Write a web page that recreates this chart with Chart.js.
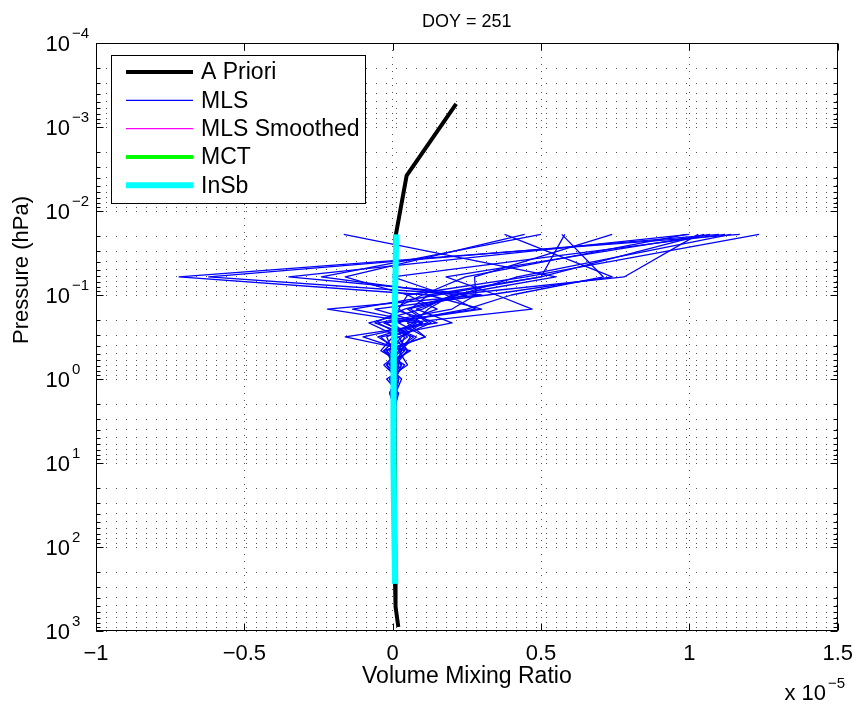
<!DOCTYPE html>
<html>
<head>
<meta charset="utf-8">
<script src="https://cdn.jsdelivr.net/npm/chart.js@4.4.0/dist/chart.umd.min.js"></script>
<style>
  html, body { margin: 0; padding: 0; background: #fff; }
  #wrap { width: 863px; height: 706px; position: relative; }
</style>
</head>
<body>
<div id="wrap"><canvas id="canvas"></canvas></div>
<script>
const FONT = '"Liberation Sans", Arial, Helvetica, sans-serif';

// axis ticks
const xTicks = [-1, -0.5, 0, 0.5, 1, 1.5];
const yExponents = [-4, -3, -2, -1, 0, 1, 2, 3];

// a priori profile (pressure hPa, vmr x 1e-5)
const aprioriPressure = [5.3e-4, 3.8e-3, 0.02, 0.1, 1, 10, 100, 275, 513, 896];
const aprioriVmr = [0.214, 0.047, 0.0097, 0.008, 0.006, 0.006, 0.007, 0.008, 0.0097, 0.019];

// MLS profiles, one row per profile, on these pressure levels
const mlsLevels = [0.019, 0.061, 0.1, 0.147, 0.215, 0.316, 0.46, 0.68, 1.0, 1.47, 2.15, 3.16, 4.6, 10, 46, 215];
const mlsProfiles = [
  [1.235, 0.45, 0.05, 0.02, 0.10, -0.05, 0.03, 0.01, 0.00, 0.01, 0.006, 0.004, 0.006, 0.005, 0.006, 0.008],
  [1.17, -0.72, 0.12, 0.30, -0.02, 0.05, -0.02, 0.02, 0.01, -0.01, 0.005, 0.007, 0.004, 0.005, 0.006, 0.008],
  [1.10, -0.62, 0.25, 0.05, 0.12, -0.10, 0.04, -0.01, 0.02, 0.00, 0.008, 0.004, 0.005, 0.006, 0.005, 0.007],
  [1.07, 0.18, 0.35, 0.47, 0.05, 0.11, -0.03, 0.03, -0.01, 0.015, 0.004, 0.006, 0.005, 0.004, 0.006, 0.008],
  [1.03, 0.78, 0.20, 0.10, -0.08, 0.02, 0.05, 0.00, 0.02, 0.005, 0.006, 0.005, 0.007, 0.005, 0.005, 0.008],
  [1.00, -0.35, 0.30, -0.22, 0.08, 0.00, -0.04, 0.04, 0.00, -0.005, 0.007, 0.005, 0.004, 0.006, 0.006, 0.007],
  [0.99, 0.245, 0.10, 0.00, 0.15, -0.16, 0.06, -0.02, 0.03, 0.01, 0.003, 0.006, 0.006, 0.005, 0.005, 0.008],
  [0.74, 0.276, 0.28, 0.20, -0.05, 0.04, 0.02, 0.05, -0.02, 0.02, 0.008, 0.005, 0.005, 0.005, 0.006, 0.007],
  [0.58, 0.50, 0.15, -0.135, 0.10, 0.03, -0.01, 0.01, 0.01, 0.00, 0.006, 0.006, 0.005, 0.006, 0.005, 0.008],
  [0.57, 0.71, 0.40, 0.25, 0.00, 0.06, 0.03, -0.03, 0.02, 0.01, 0.004, 0.005, 0.006, 0.004, 0.006, 0.007],
  [0.50, -0.24, 0.22, 0.08, 0.20, -0.04, 0.01, 0.02, -0.01, 0.005, 0.007, 0.004, 0.005, 0.005, 0.006, 0.008],
  [0.445, -0.16, 0.05, 0.15, 0.02, 0.11, -0.02, 0.00, 0.01, -0.01, 0.005, 0.006, 0.006, 0.006, 0.005, 0.007],
  [0.377, 0.74, 0.32, -0.06, 0.10, 0.00, 0.05, 0.01, 0.00, 0.015, 0.006, 0.005, 0.004, 0.005, 0.006, 0.008],
  [-0.165, 0.55, 0.20, 0.12, 0.07, -0.02, 0.00, 0.03, 0.01, 0.00, 0.005, 0.007, 0.005, 0.005, 0.005, 0.007],
  [1.12, 0.00, 0.18, 0.28, -0.03, 0.08, 0.02, -0.01, 0.02, 0.01, 0.006, 0.005, 0.006, 0.004, 0.006, 0.008],
  [1.05, 0.50, 0.12, 0.06, 0.13, 0.02, -0.03, 0.02, 0.00, 0.005, 0.004, 0.006, 0.005, 0.006, 0.005, 0.007],
  [1.14, 0.42, 0.22, 0.04, -0.06, 0.07, 0.01, -0.02, 0.01, 0.00, 0.006, 0.005, 0.005, 0.005, 0.006, 0.008]
];

// MLS smoothed
const smoothPressure = [0.02, 0.1, 1, 10, 100];
const smoothVmr = [0.01, 0.006, 0.003, 0.004, 0.006];

// MCT retrieval
const mctPressure = [0.1, 1, 10, 100, 270];
const mctVmr = [0.005, 0.002, 0.006, 0.01, 0.012];

// InSb retrieval
const insbPressure = [0.019, 0.1, 0.5, 1, 10, 50, 275];
const insbVmr = [0.012, 0.008, 0.004, 0.002, 0.003, 0.005, 0.008];

function toPoints(xs, ps) {
  return ps.map((p, i) => ({ x: xs[i], y: p }));
}

// grid positions for the log axis: 1..9 x 10^n
const yGridValues = [];
yExponents.forEach(e => {
  for (let m = 1; m <= 9; m++) {
    if (e === 3 && m > 1) break;
    yGridValues.push(m * Math.pow(10, e));
  }
});

const datasets = [];
datasets.push({ label: 'A Priori', data: toPoints(aprioriVmr, aprioriPressure), borderColor: '#000000', borderWidth: 4, order: 5 });
mlsProfiles.forEach(row => {
  datasets.push({ label: 'MLS', data: toPoints(row, mlsLevels), borderColor: '#0000ff', borderWidth: 1.3, order: 4 });
});
datasets.push({ label: 'MLS Smoothed', data: toPoints(smoothVmr, smoothPressure), borderColor: '#ff00ff', borderWidth: 1.3, order: 3 });
datasets.push({ label: 'MCT', data: toPoints(mctVmr, mctPressure), borderColor: '#00ff00', borderWidth: 4, order: 2 });
datasets.push({ label: 'InSb', data: toPoints(insbVmr, insbPressure), borderColor: '#00ffff', borderWidth: 6, order: 1 });

function fmtX(v) {
  if (v === 0) return '0';
  return v < 0 ? '\u2212' + Math.abs(v) : String(v);
}

const matlabAxes = {
  id: 'matlabAxes',
  beforeDraw(chart) {
    const c = chart.ctx;
    c.save();
    c.fillStyle = '#fff';
    c.fillRect(0, 0, chart.width, chart.height);
    c.restore();
  },
  afterDraw(chart) {
    const c = chart.ctx;
    const a = chart.chartArea;
    const xs = chart.scales.x;
    const ys = chart.scales.y;
    const L = Math.round(a.left) + 0.5, R = Math.round(a.right) - 0.5;
    const T = Math.round(a.top) + 0.5, B = Math.round(a.bottom) - 0.5;
    c.save();
    c.strokeStyle = '#000';
    c.lineWidth = 1;

    // inner ticks
    c.beginPath();
    xTicks.forEach(v => {
      const px = Math.round(xs.getPixelForValue(v)) + 0.5;
      c.moveTo(px, B); c.lineTo(px, B - 7);
      c.moveTo(px, T); c.lineTo(px, T + 7);
    });
    yGridValues.forEach(v => {
      const py = Math.round(ys.getPixelForValue(v)) + 0.5;
      const major = Math.abs(Math.log10(v) - Math.round(Math.log10(v))) < 1e-9;
      const len = major ? 7 : 4;
      c.moveTo(L, py); c.lineTo(L + len, py);
      c.moveTo(R, py); c.lineTo(R - len, py);
    });
    c.stroke();

    // box
    c.strokeRect(L, T, R - L, B - T);

    // y tick labels 10^n
    c.fillStyle = '#000';
    yExponents.forEach(e => {
      const py = ys.getPixelForValue(Math.pow(10, e));
      c.font = '22px ' + FONT;
      c.textAlign = 'right';
      c.textBaseline = 'alphabetic';
      c.fillText('10', 70, py + 8);
      c.font = '15px ' + FONT;
      c.textAlign = 'left';
      c.fillText(e < 0 ? '\u2212' + Math.abs(e) : String(e), 72, py - 5);
    });

    // y axis title
    c.save();
    c.translate(28, 270);
    c.rotate(-Math.PI / 2);
    c.font = '22px ' + FONT;
    c.textAlign = 'center';
    c.textBaseline = 'alphabetic';
    c.fillText('Pressure (hPa)', 0, 0);
    c.restore();

    // x multiplier
    c.font = '22px ' + FONT;
    c.textAlign = 'right';
    c.fillText('x 10', 826, 700);
    c.font = '15px ' + FONT;
    c.textAlign = 'left';
    c.fillText('\u22125', 828, 688);

    // legend
    const lx = 111.5, ly = 55.5, lw = 254, lh = 148;
    c.fillStyle = '#fff';
    c.fillRect(lx, ly, lw, lh);
    c.strokeRect(lx, ly, lw, lh);
    const seen = [];
    chart.data.datasets.forEach(ds => {
      if (seen.find(s => s.label === ds.label)) return;
      seen.push(ds);
    });
    seen.forEach((ds, i) => {
      const ry = 72 + i * 28.3;
      c.strokeStyle = ds.borderColor;
      c.lineWidth = ds.borderWidth;
      c.beginPath();
      c.moveTo(126, ry);
      c.lineTo(193, ry);
      c.stroke();
      c.fillStyle = '#000';
      c.font = '23px ' + FONT;
      c.textAlign = 'left';
      c.textBaseline = 'middle';
      c.fillText(ds.label, 201, ry + 1);
    });
    c.restore();
  }
};

new Chart(document.getElementById('canvas'), {
  type: 'line',
  data: { datasets: datasets },
  options: {
    responsive: true,
    maintainAspectRatio: false,
    animation: false,
    events: [],
    layout: { padding: { left: 0, right: 21, top: 0, bottom: 0 } },
    elements: {
      point: { radius: 0 },
      line: { tension: 0, borderJoinStyle: 'round', fill: false }
    },
    plugins: {
      legend: { display: false },
      tooltip: { enabled: false },
      title: {
        display: true,
        text: 'DOY = 251',
        fullSize: false,
        color: '#000',
        font: { family: FONT, size: 18, weight: 'normal' },
        padding: { top: 11, bottom: 10.4 }
      }
    },
    scales: {
      x: {
        type: 'linear',
        min: -1,
        max: 1.5,
        afterFit: s => { s.height = 75; },
        afterBuildTicks: s => { s.ticks = xTicks.map(v => ({ value: v })); },
        grid: { color: '#555', lineWidth: 1, drawTicks: false },
        border: { display: false, dash: [1, 6] },
        ticks: {
          padding: 10,
          color: '#000',
          maxRotation: 0,
          font: { family: FONT, size: 22 },
          callback: v => fmtX(v)
        },
        title: {
          display: true,
          text: 'Volume Mixing Ratio',
          color: '#000',
          font: { family: FONT, size: 23 },
          padding: { top: 0, bottom: 16 }
        }
      },
      y: {
        type: 'logarithmic',
        reverse: true,
        min: 1e-4,
        max: 1e3,
        afterFit: s => { s.width = 96; },
        afterBuildTicks: s => { s.ticks = yGridValues.map(v => ({ value: v })); },
        grid: { color: '#555', lineWidth: 1, drawTicks: false },
        border: { display: false, dash: [1, 9] },
        ticks: { display: false }
      }
    }
  },
  plugins: [matlabAxes]
});
</script>
</body>
</html>
